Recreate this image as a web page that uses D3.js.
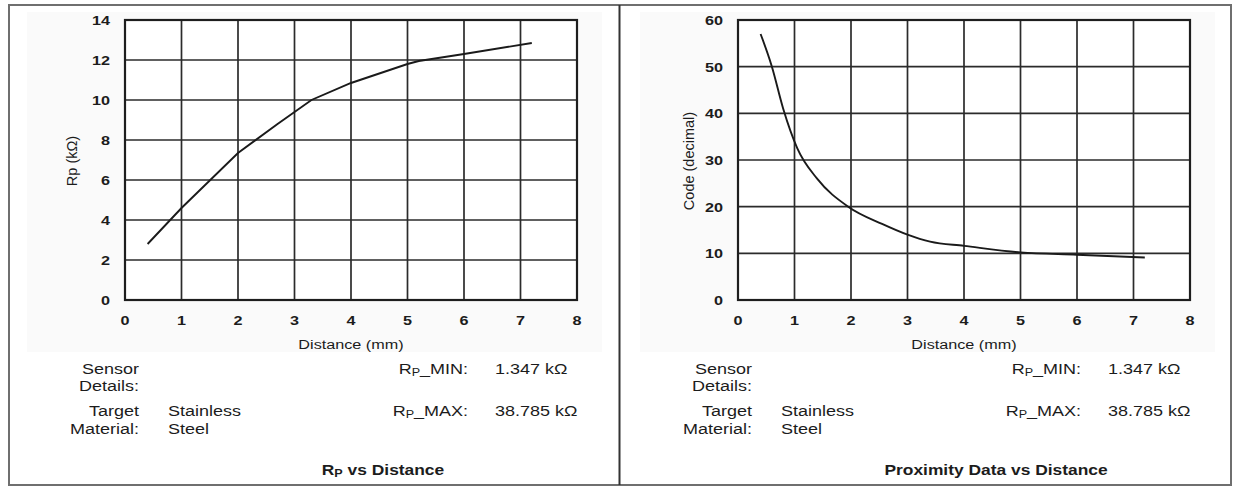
<!DOCTYPE html>
<html lang="en">
<head>
<meta charset="UTF-8">
<title>Rp and Proximity Data vs Distance</title>
<script src="https://d3js.org/d3.v7.min.js"></script>
<style>
    body { margin: 0; padding: 0; background: #fff; font-family: "Liberation Sans", Arial, sans-serif; }
    svg text { fill: #1c1c1c; }
</style>
</head>
<body>
<svg id="chart" width="1233" height="487"></svg>
<script>
// distance ticks shared by both charts
const xTicks = [0, 1, 2, 3, 4, 5, 6, 7, 8];

// Rp (kOhm) vs distance (mm)
const rpDistance = [0.4, 1.0, 2.0, 2.7, 3.3, 4.0, 5.0, 5.2, 6.0, 7.2];
const rpValues   = [2.8, 4.6, 7.35, 8.8, 10.0, 10.85, 11.8, 11.95, 12.3, 12.85];
const rpTicks    = [0, 2, 4, 6, 8, 10, 12, 14];

// proximity code (decimal) vs distance (mm)
const codeDistance = [0.4, 0.6, 0.8, 1.05, 1.4, 1.95, 2.55, 3.0, 3.4, 4.0, 5.0, 6.0, 7.2];
const codeValues   = [57, 50, 41, 32.5, 26, 20, 16.3, 14, 12.5, 11.6, 10.2, 9.7, 9.1];
const codeTicks    = [0, 10, 20, 30, 40, 50, 60];

const svg = d3.select('#chart');
const SX = 1.2; // the scanned figure is a bit wider than tall

// outer frame and divider
svg.append('rect')
    .attr('x', 9).attr('y', 5).attr('width', 1222).attr('height', 480)
    .attr('fill', 'none').attr('stroke', '#6f6f6f').attr('stroke-width', 2);
svg.append('line')
    .attr('x1', 619.5).attr('x2', 619.5).attr('y1', 5).attr('y2', 485)
    .attr('stroke', '#333').attr('stroke-width', 2);

// horizontal text, stretched a little like the source
function label(g, x, y, txt, size, anchor, weight) {
    const t = g.append('g')
        .attr('transform', `translate(${x},${y}) scale(${SX},1)`)
        .append('text')
        .attr('text-anchor', anchor || 'start')
        .attr('font-size', size)
        .attr('font-weight', weight || 'normal');
    if (txt !== null) t.text(txt);
    return t;
}

function rpText(t, rest, subSize) {
    t.append('tspan').text('R');
    t.append('tspan').attr('font-size', subSize).attr('dy', 2).text('P');
    t.append('tspan').attr('dy', -2).text(rest);
}

function drawPanel(opts) {
    const g = svg.append('g').attr('transform', `translate(${opts.left},0)`);
    const plot = { x0: 116, x1: 568, y0: 20, y1: 300 };

    // faint scan background
    g.append('rect')
        .attr('x', 18).attr('y', 12).attr('width', 575).attr('height', 340)
        .attr('fill', '#fafafa');

    const x = d3.scaleLinear().domain([0, 8]).range([plot.x0, plot.x1]);
    const y = d3.scaleLinear().domain([0, opts.yMax]).range([plot.y1, plot.y0]);

    g.append('rect')
        .attr('x', plot.x0).attr('y', plot.y0)
        .attr('width', plot.x1 - plot.x0).attr('height', plot.y1 - plot.y0)
        .attr('fill', '#fff');

    // grid lines
    g.selectAll('.vgrid').data(xTicks.slice(1, -1)).join('line')
        .attr('x1', d => x(d)).attr('x2', d => x(d))
        .attr('y1', plot.y0).attr('y2', plot.y1)
        .attr('stroke', '#2b2b2b').attr('stroke-width', 1.7);
    g.selectAll('.hgrid').data(opts.yTicks.slice(1, -1)).join('line')
        .attr('x1', plot.x0).attr('x2', plot.x1)
        .attr('y1', d => y(d)).attr('y2', d => y(d))
        .attr('stroke', '#2b2b2b').attr('stroke-width', 1.7);

    g.append('rect')
        .attr('x', plot.x0).attr('y', plot.y0)
        .attr('width', plot.x1 - plot.x0).attr('height', plot.y1 - plot.y0)
        .attr('fill', 'none').attr('stroke', '#1e1e1e').attr('stroke-width', 2.2);

    // tick labels
    xTicks.forEach(d => label(g, x(d), 325, d, 13.5, 'middle', 'bold'));
    opts.yTicks.forEach(d => label(g, plot.x0 - 15, y(d) + 5, d, 13.5, 'end', 'bold'));

    // axis titles
    label(g, (plot.x0 + plot.x1) / 2, 349, 'Distance (mm)', 13.5, 'middle');
    g.append('text')
        .attr('transform', `translate(${opts.yTitleX},161) rotate(-90)`)
        .attr('text-anchor', 'middle').attr('font-size', 14.5)
        .text(opts.yTitle);

    // data line
    const line = d3.line()
        .x((d, i) => x(opts.xs[i]))
        .y(d => y(d))
        .curve(opts.curve);
    g.append('path')
        .datum(opts.ys)
        .attr('d', line)
        .attr('fill', 'none').attr('stroke', '#1a1a1a').attr('stroke-width', 1.9);

    // sensor details block
    const fs = 15;
    [['Sensor', 374], ['Details:', 391], ['Target', 416], ['Material:', 434]]
        .forEach(([t, yy]) => label(g, 130, yy, t, fs, 'end'));
    [['Stainless', 416], ['Steel', 434]]
        .forEach(([t, yy]) => label(g, 159, yy, t, fs));

    [['_MIN:', 374], ['_MAX:', 416]].forEach(([t, yy]) => {
        rpText(label(g, 459, yy, null, fs, 'end'), t, 10.5);
    });
    [['1.347 kΩ', 374], ['38.785 kΩ', 416]]
        .forEach(([t, yy]) => label(g, 486, yy, t, fs));

    // chart title
    const title = label(g, opts.titleX, 475, null, 14.5, 'middle', 'bold');
    if (opts.titleSub) rpText(title, ' vs Distance', 10.5);
    else title.text(opts.title);
}

drawPanel({
    left: 9, yMax: 14, yTicks: rpTicks, xs: rpDistance, ys: rpValues,
    curve: d3.curveLinear, yTitle: 'Rp (kΩ)', yTitleX: 68, titleX: 374, titleSub: true
});
drawPanel({
    left: 622, yMax: 60, yTicks: codeTicks, xs: codeDistance, ys: codeValues,
    curve: d3.curveMonotoneX, yTitle: 'Code (decimal)', yTitleX: 72, titleX: 374,
    title: 'Proximity Data vs Distance'
});
</script>
</body>
</html>
